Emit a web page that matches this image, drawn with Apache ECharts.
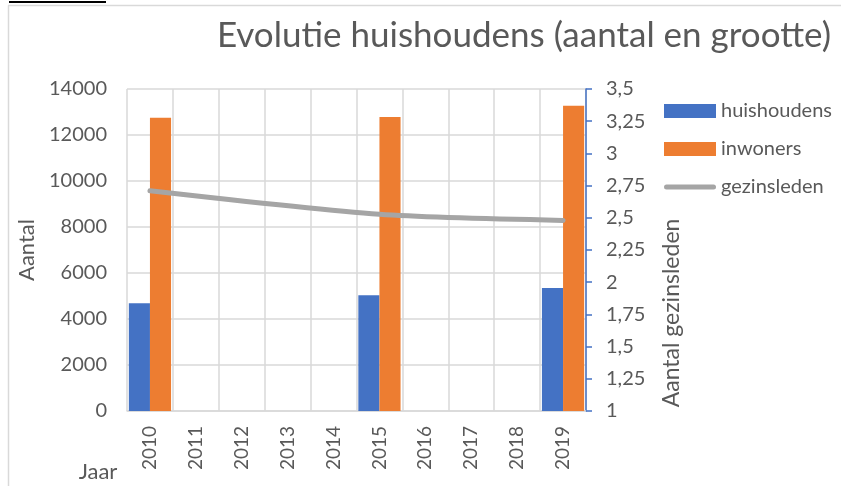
<!DOCTYPE html>
<html>
<head>
<meta charset="utf-8">
<script src="https://cdn.jsdelivr.net/npm/echarts@6/dist/echarts.min.js"></script>
<style>
  html, body { margin: 0; padding: 0; background: #fff; }
  #chart { width: 841px; height: 486px; }
</style>
</head>
<body>
<div id="chart"></div>
<script>
// gegevens
var jaren = ['2010', '2011', '2012', '2013', '2014', '2015', '2016', '2017', '2018', '2019'];
var huishoudens = [4683, null, null, null, null, 5030, null, null, null, 5348];
var inwoners = [12752, null, null, null, null, 12783, null, null, null, 13274];
var gezinsleden = [2.71, null, null, null, null, 2.527, null, null, null, 2.48];

var fam = 'Lato, "Open Sans", sans-serif';
var grijs = '#595959';

var myChart = echarts.init(document.getElementById('chart'));

var option = {
  animation: false,
  backgroundColor: '#fff',
  textStyle: { fontFamily: fam },
  title: {
    text: 'Evolutie huishoudens (aantal en grootte)',
    right: 5,
    top: 13,
    textStyle: { fontFamily: fam, fontSize: 35, fontWeight: 'normal', color: grijs }
  },
  legend: {
    orient: 'vertical',
    left: 659,
    top: 96,
    itemWidth: 52,
    itemHeight: 14,
    itemGap: 18,
    symbolKeepAspect: true,
    textStyle: { fontFamily: fam, fontSize: 20, color: grijs },
    data: [
      { name: 'huishoudens', icon: 'rect' },
      { name: 'inwoners', icon: 'rect' },
      { name: 'gezinsleden', icon: 'path://M2.5,0 L49.5,0 A2.5,2.5 0 0 1 49.5,5 L2.5,5 A2.5,2.5 0 0 1 2.5,0 Z' }
    ]
  },
  grid: { left: 127, right: 255, top: 89, bottom: 75 },
  xAxis: {
    type: 'category',
    data: jaren,
    axisLine: { show: true, lineStyle: { color: '#d9d9d9', width: 1.5 } },
    axisTick: { show: false },
    splitLine: { show: true, lineStyle: { color: '#d9d9d9', width: 1.5 } },
    axisLabel: { rotate: 90, fontSize: 19, color: grijs, margin: 15, fontFamily: fam }
  },
  yAxis: [
    {
      type: 'value',
      min: 0,
      max: 14000,
      interval: 2000,
      name: 'Aantal',
      nameLocation: 'middle',
      nameGap: 84,
      nameTextStyle: { fontSize: 22, color: grijs, fontFamily: fam },
      axisLine: { show: false },
      axisTick: { show: false },
      axisLabel: {
        fontSize: 20, color: grijs, margin: 20, fontFamily: fam,
        formatter: function (v) { return String(v); }
      },
      splitLine: { show: true, lineStyle: { color: '#d9d9d9', width: 1.5 } }
    },
    {
      type: 'value',
      position: 'right',
      min: 1,
      max: 3.5,
      interval: 0.25,
      axisLine: { show: true, lineStyle: { color: '#4472C4', width: 1.5 } },
      axisTick: { show: true, length: 6, lineStyle: { color: '#4472C4', width: 1.5 } },
      axisLabel: {
        fontSize: 20, color: grijs, margin: 20, fontFamily: fam,
        formatter: function (v) { return String(+v.toFixed(2)).replace('.', ','); }
      },
      splitLine: { show: false }
    }
  ],
  graphic: [
    { type: 'line', shape: { x1: 8.5, y1: 5.5, x2: 8.5, y2: 486 }, style: { stroke: '#d9d9d9', lineWidth: 1.5 } },
    { type: 'line', shape: { x1: 8, y1: 5.5, x2: 841, y2: 5.5 }, style: { stroke: '#d9d9d9', lineWidth: 1.5 } },
    { type: 'line', shape: { x1: 9, y1: 2, x2: 106, y2: 2 }, style: { stroke: '#000', lineWidth: 2 } },
    {
      type: 'text', x: 98, y: 472,
      style: { text: 'Jaar', fontSize: 22, fill: grijs, fontFamily: fam, textAlign: 'center', textVerticalAlign: 'middle' }
    },
    {
      type: 'text', x: 672, y: 313, rotation: Math.PI / 2,
      style: { text: 'Aantal gezinsleden', fontSize: 23, fill: grijs, fontFamily: fam, textAlign: 'center', textVerticalAlign: 'middle' }
    }
  ],
  series: [
    {
      name: 'huishoudens',
      type: 'bar',
      data: huishoudens,
      barGap: '0%',
      barCategoryGap: '8%',
      itemStyle: { color: '#4472C4' }
    },
    {
      name: 'inwoners',
      type: 'bar',
      data: inwoners,
      itemStyle: { color: '#ED7D31' }
    },
    {
      name: 'gezinsleden',
      type: 'line',
      yAxisIndex: 1,
      data: gezinsleden,
      connectNulls: true,
      smooth: 0.25,
      symbol: 'none',
      itemStyle: { color: '#A5A5A5' },
      lineStyle: { color: '#A5A5A5', width: 5, cap: 'round' }
    }
  ]
};

myChart.setOption(option);
</script>
</body>
</html>
